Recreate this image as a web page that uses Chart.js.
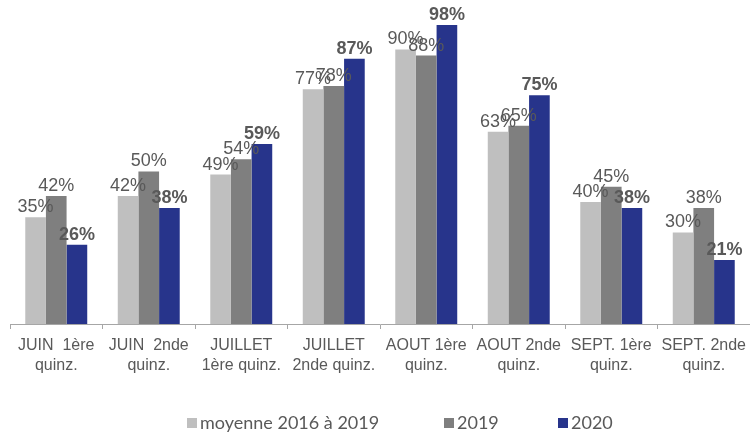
<!DOCTYPE html>
<html>
<head>
<meta charset="utf-8">
<script src="https://cdn.jsdelivr.net/npm/chart.js@4"></script>
<style>
  html, body { margin: 0; padding: 0; background: #fff; }
  #wrap { width: 750px; height: 434px; }
</style>
</head>
<body>
<div id="wrap"><canvas id="chart" width="750" height="434"></canvas></div>
<script>
// --- Data ---
const categories = [
  ['JUIN  1ère', 'quinz.'],
  ['JUIN  2nde', 'quinz.'],
  ['JUILLET', '1ère quinz.'],
  ['JUILLET', '2nde quinz.'],
  ['AOUT 1ère', 'quinz.'],
  ['AOUT 2nde', 'quinz.'],
  ['SEPT. 1ère', 'quinz.'],
  ['SEPT. 2nde', 'quinz.']
];
const seriesNames = ['moyenne 2016 à 2019', '2019', '2020'];
const moyenne = [35, 42, 49, 77, 90, 63, 40, 30];
const y2019 = [42, 50, 54, 78, 88, 65, 45, 38];
const y2020 = [26, 38, 59, 87, 98, 75, 38, 21];

const colors = ['#bfbfbf', '#7f7f7f', '#27348b'];
const textColor = '#595959';

// --- Plugins: value labels + bottom legend ---
const valueLabels = {
  id: 'valueLabels',
  afterDatasetsDraw(chart) {
    const ctx = chart.ctx;
    ctx.save();
    chart.data.datasets.forEach((ds, i) => {
      const meta = chart.getDatasetMeta(i);
      ctx.font = (i === 2 ? 'bold ' : '') + '18px "Liberation Sans", Arial, sans-serif';
      ctx.fillStyle = textColor;
      ctx.textAlign = 'center';
      ctx.textBaseline = 'bottom';
      meta.data.forEach((bar, j) => {
        ctx.fillText(ds.data[j] + '%', bar.x, bar.y - 1);
      });
    });
    ctx.restore();
  }
};

const bottomLegend = {
  id: 'bottomLegend',
  afterDraw(chart) {
    const ctx = chart.ctx;
    const starts = [187, 444, 558];
    const y = 423;
    ctx.save();
    ctx.font = '18px Lato, "Open Sans", sans-serif';
    ctx.textBaseline = 'middle';
    seriesNames.forEach((name, i) => {
      ctx.fillStyle = colors[i];
      ctx.fillRect(starts[i], y - 5, 10, 10);
      ctx.fillStyle = textColor;
      ctx.fillText(name, starts[i] + 13, y);
    });
    ctx.restore();
  }
};

// --- Chart ---
new Chart(document.getElementById('chart'), {
  type: 'bar',
  data: {
    labels: categories,
    datasets: [
      { label: seriesNames[0], data: moyenne, backgroundColor: colors[0] },
      { label: seriesNames[1], data: y2019, backgroundColor: colors[1] },
      { label: seriesNames[2], data: y2020, backgroundColor: colors[2] }
    ]
  },
  options: {
    responsive: false,
    animation: false,
    layout: { padding: { top: 19, left: 10, right: 0, bottom: 51 } },
    datasets: { bar: { categoryPercentage: 0.67, barPercentage: 1.0 } },
    plugins: {
      legend: { display: false },
      tooltip: { enabled: false }
    },
    scales: {
      x: {
        afterFit(scale) {
          // let the axis run to the canvas edge like the original
          scale.paddingLeft = 0;
          scale.paddingRight = 0;
        },
        grid: { display: true, drawOnChartArea: false, tickLength: 5, color: '#a6a6a6', offset: true },
        border: { color: '#a6a6a6' },
        ticks: {
          color: textColor,
          font: { family: '"Liberation Sans", Arial, sans-serif', size: 16, lineHeight: 1.25 },
          maxRotation: 0,
          autoSkip: false,
          padding: 7
        }
      },
      y: {
        display: false,
        min: 0,
        max: 100
      }
    }
  },
  plugins: [valueLabels, bottomLegend]
});
</script>
</body>
</html>
